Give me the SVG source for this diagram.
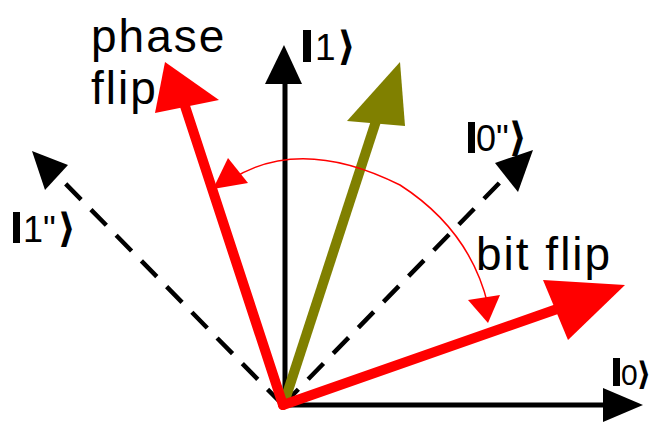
<svg xmlns="http://www.w3.org/2000/svg" width="652" height="422" viewBox="0 0 652 422">
<style>
.lbl{font-family:"Liberation Sans",Arial,sans-serif;font-size:46px;fill:#000;letter-spacing:2px}
.ket{font-family:"Liberation Sans",Arial,sans-serif;fill:#000}
.br{font-family:"DejaVu Sans",sans-serif;font-weight:bold}
.dash{stroke:#000;stroke-width:4.5;stroke-dasharray:22 14;fill:none}
.blk{stroke:#000;stroke-width:5;fill:none}
.red{stroke:#ff0000;stroke-width:10;fill:none;stroke-linecap:round}
.olv{stroke:#808000;stroke-width:10;fill:none}
.arc{stroke:#ff0000;stroke-width:1.5;fill:none}
</style>
<rect width="652" height="422" fill="#fff"/>
<g id="connectors">
  <line class="dash" x1="283" y1="405" x2="52" y2="170"/>
  <polygon points="32,151 68,165 45,190" fill="#000"/>
  <line class="dash" x1="283" y1="405" x2="510" y2="172"/>
  <polygon points="533,150 495,163 518,192" fill="#000"/>
  <line class="blk" x1="285" y1="407" x2="285" y2="80"/>
  <polygon points="284,45 265,84 302,84" fill="#000"/>
  <line class="blk" x1="283" y1="405" x2="608" y2="405"/>
  <polygon points="643,405 603,388 603,422" fill="#000"/>
  <line class="olv" x1="285" y1="400" x2="378" y2="115"/>
  <polygon points="400,62 347,121 405,126" fill="#808000"/>
  <line class="red" x1="283" y1="405" x2="183" y2="100"/>
  <polygon points="165,62 155,113 219,100" fill="#ff0000"/>
  <line class="red" x1="283" y1="405" x2="560" y2="308"/>
  <polygon points="625,285 543,280 568,340" fill="#ff0000"/>
  <path class="arc" d="M 230,180 Q 300,135 400,185 Q 470,230 488,305"/>
  <polygon points="213,189 228,158 248,183" fill="#ff0000"/>
  <polygon points="488,323 468,300 500,295" fill="#ff0000"/>
</g>
<g id="label-phase-flip">
  <text class="lbl" x="91" y="52">phase</text>
  <text class="lbl" x="91" y="104">flip</text>
</g>
<g id="label-bit-flip">
  <text class="lbl" x="476" y="270">bit flip</text>
</g>
<g id="ket-1">
  <rect x="303" y="30" width="8" height="32" fill="#000"/>
  <text class="ket" x="315" y="60" font-size="37">1<tspan class="br" font-size="40" dx="2">⟩</tspan></text>
</g>
<g id="ket-0pp">
  <rect x="468" y="122" width="7" height="31" fill="#000"/>
  <text class="ket" x="476" y="151" font-size="36">0"<tspan class="br" font-size="40">⟩</tspan></text>
</g>
<g id="ket-1pp">
  <rect x="13" y="212" width="7" height="31" fill="#000"/>
  <text class="ket" x="23" y="242" font-size="36">1"<tspan class="br" font-size="40" dx="2">⟩</tspan></text>
</g>
<g id="ket-0">
  <rect x="613" y="358" width="7" height="28" fill="#000"/>
  <text class="ket" x="621" y="385" font-size="30">0<tspan class="br" font-size="32" dx="-1">⟩</tspan></text>
</g>
</svg>
